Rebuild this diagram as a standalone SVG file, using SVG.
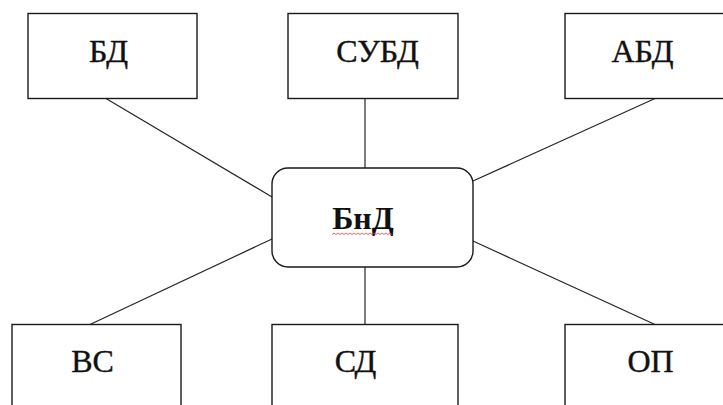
<svg xmlns="http://www.w3.org/2000/svg" width="723" height="405" viewBox="0 0 723 405">
<style>
.box{fill:#fff;stroke:#1a1a1a;stroke-width:1.4}
.ln{stroke:#262626;stroke-width:1.2;fill:none}
.t{font-family:"Liberation Serif","Times New Roman",serif;font-size:32px;fill:#111;stroke:#111;stroke-width:0.4;text-anchor:middle}
.b{font-weight:bold;stroke-width:0}
</style>
<rect width="723" height="405" fill="#fff"/>
<g id="connectors">
<line class="ln" x1="106" y1="98.5" x2="272" y2="197"/>
<line class="ln" x1="365" y1="98.5" x2="365" y2="168"/>
<line class="ln" x1="655" y1="98.5" x2="473" y2="181"/>
<line class="ln" x1="90" y1="324.5" x2="272" y2="239"/>
<line class="ln" x1="365" y1="267" x2="365" y2="324.5"/>
<line class="ln" x1="655" y1="324.5" x2="473" y2="241"/>
</g>
<g id="node-bd">
<rect class="box" x="28" y="13.5" width="169" height="85"/>
<text class="t" x="108.5" y="62">БД</text>
</g>
<g id="node-subd">
<rect class="box" x="288" y="13.5" width="170" height="85"/>
<text class="t" x="377.5" y="62">СУБД</text>
</g>
<g id="node-abd">
<rect class="box" x="565" y="13.5" width="170" height="85"/>
<text class="t" x="642.5" y="62">АБД</text>
</g>
<g id="node-bnd">
<rect class="box" x="272" y="168" width="201" height="99" rx="16" ry="16"/>
<text class="t b" x="363" y="229">БнД</text>
<path d="M332 234.5 l2 -1.5 l2 1.5 l2 -1.5 l2 1.5 l2 -1.5 l2 1.5 l2 -1.5 l2 1.5 l2 -1.5 l2 1.5 l2 -1.5 l2 1.5 l2 -1.5 l2 1.5 l2 -1.5 l2 1.5 l2 -1.5 l2 1.5 l2 -1.5 l2 1.5 l2 -1.5 l2 1.5 l2 -1.5 l2 1.5 l2 -1.5 l2 1.5 l2 -1.5 l2 1.5 l2 -1.5 l2 1.5" fill="none" stroke="#e04040" stroke-width="0.8"/>
</g>
<g id="node-vs">
<rect class="box" x="12" y="324.5" width="169" height="100"/>
<text class="t" x="92.5" y="372">ВС</text>
</g>
<g id="node-sd">
<rect class="box" x="272" y="324.5" width="186" height="100"/>
<text class="t" x="355.5" y="372">СД</text>
</g>
<g id="node-op">
<rect class="box" x="565" y="324.5" width="170" height="100"/>
<text class="t" x="650.5" y="372">ОП</text>
</g>
</svg>
